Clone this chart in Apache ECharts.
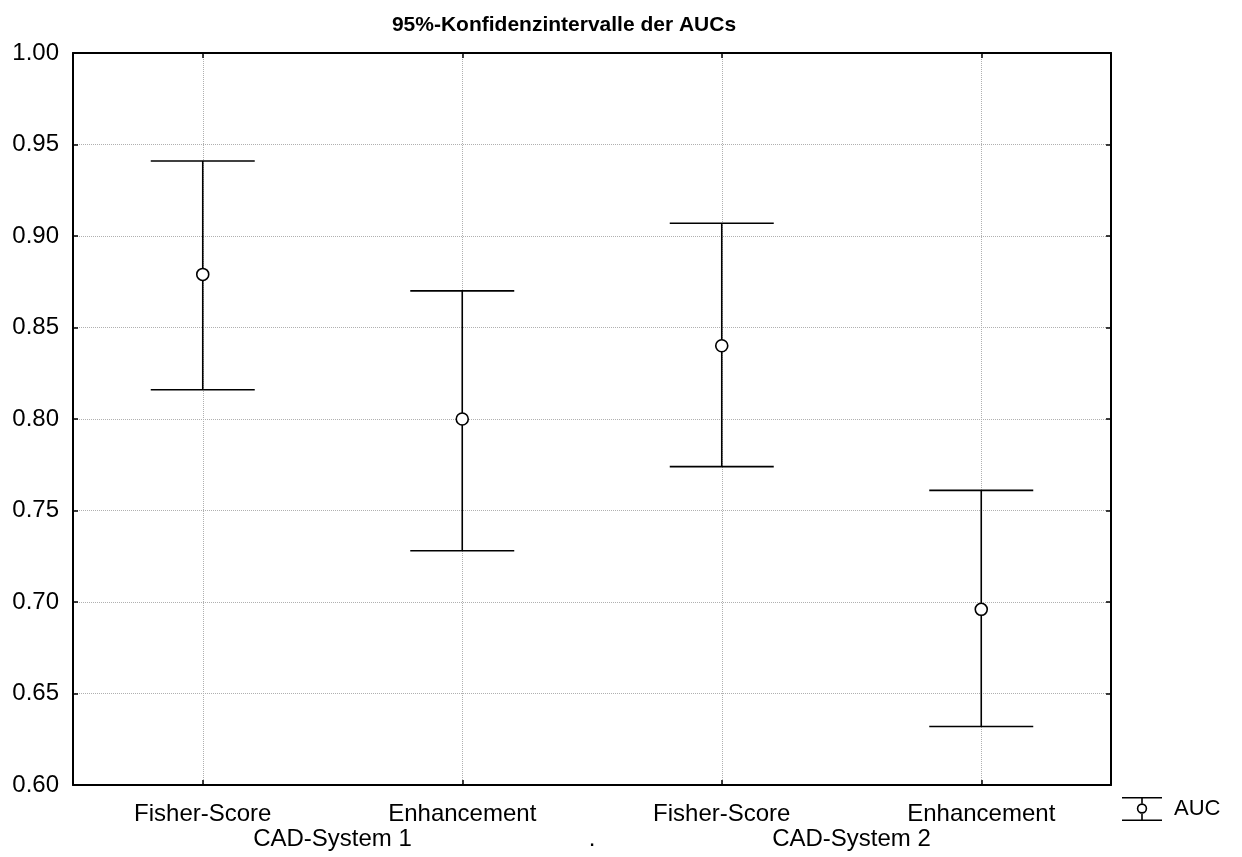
<!DOCTYPE html>
<html><head><meta charset="utf-8">
<script src="https://cdn.jsdelivr.net/npm/echarts@6/dist/echarts.min.js"></script>
<style>html,body{margin:0;padding:0;background:#fff}#c{width:1242px;height:857px}</style>
</head><body><div id="c"></div>
<script>
const categories = ['Fisher-Score', 'Enhancement', 'Fisher-Score', 'Enhancement'];
const groupLabels = ['', 'CAD-System 1', '.', 'CAD-System 2', ''];
const aucMean = [0.879, 0.800, 0.840, 0.696];
const ciLower = [0.816, 0.728, 0.774, 0.632];
const ciUpper = [0.941, 0.870, 0.907, 0.761];
const yTicks = [0.60, 0.65, 0.70, 0.75, 0.80, 0.85, 0.90, 0.95, 1.00];

const FONT = 'Liberation Sans, Arial, sans-serif';
const chart = echarts.init(document.getElementById('c'), null, {renderer: 'canvas'});

const errData = categories.map((c, i) => [i, ciLower[i], aucMean[i], ciUpper[i]]);
const meanData = categories.map((c, i) => [i, aucMean[i]]);

const legendIcon = 'path://M0,0 L40,0 L40,1.6 L0,1.6 Z M0,22.4 L40,22.4 L40,24 L0,24 Z ' +
  'M19.2,1.6 L20.8,1.6 L20.8,6.6 L19.2,6.6 Z M19.2,16.4 L20.8,16.4 L20.8,22.4 L19.2,22.4 Z ' +
  'M25.2,11.5 A5.2,5.2 0 1,0 14.8,11.5 A5.2,5.2 0 1,0 25.2,11.5 Z M23.6,11.5 A3.6,3.6 0 1,1 16.4,11.5 A3.6,3.6 0 1,1 23.6,11.5 Z';

chart.setOption({
  animation: false,
  backgroundColor: '#fff',
  title: {
    text: '95%-Konfidenzintervalle der AUCs',
    left: 559, top: 10, textAlign: 'center',
    textStyle: {fontFamily: FONT, fontSize: 21, fontWeight: 'bold', color: '#000'}
  },
  legend: {
    left: 1117, top: 792, itemWidth: 40, itemHeight: 24, itemGap: 10,
    textStyle: {fontFamily: FONT, fontSize: 22, color: '#000', padding: [0, 0, 0, 7]},
    data: [{name: 'AUC', icon: legendIcon, itemStyle: {color: '#000', borderWidth: 0}}]
  },
  grid: {left: 73, right: 131, top: 53, bottom: 72},
  xAxis: [
    {
      type: 'category', data: categories, position: 'bottom',
      axisLine: {show: true, lineStyle: {color: '#000', width: 2}},
      axisTick: {show: true, inside: true, length: 5, alignWithLabel: true, lineStyle: {color: '#000', width: 1.5}},
      axisLabel: {fontFamily: FONT, fontSize: 24, color: '#000', margin: 17, interval: 0},
      splitLine: {show: true, alignWithLabel: true, lineStyle: {color: '#b0b0b0', type: 'dotted', width: 1}}
    },
    {
      type: 'category', data: categories, position: 'top',
      axisLine: {show: true, lineStyle: {color: '#000', width: 2}},
      axisTick: {show: true, inside: true, length: 5, alignWithLabel: true, lineStyle: {color: '#000', width: 1.5}},
      axisLabel: {show: false}, splitLine: {show: false}
    },
    {
      type: 'value', min: 0, max: 4, interval: 1, position: 'bottom',
      axisLine: {show: false}, axisTick: {show: false}, splitLine: {show: false},
      axisLabel: {fontFamily: FONT, fontSize: 24, color: '#000', margin: 42,
        formatter: v => groupLabels[Math.round(v)] || ''}
    }
  ],
  yAxis: [
    {
      type: 'value', min: 0.60, max: 1.00, interval: 0.05, position: 'left',
      axisLine: {show: true, lineStyle: {color: '#000', width: 2}},
      axisTick: {show: true, inside: true, length: 5, lineStyle: {color: '#000', width: 1.5}},
      axisLabel: {fontFamily: FONT, fontSize: 24, color: '#000', margin: 14,
        formatter: v => { const t = yTicks.find(x => Math.abs(x - v) < 1e-6); return t !== undefined ? t.toFixed(2) : ''; }},
      splitLine: {show: true, lineStyle: {color: '#b0b0b0', type: 'dotted', width: 1}}
    },
    {
      type: 'value', min: 0.60, max: 1.00, interval: 0.05, position: 'right',
      axisLine: {show: true, lineStyle: {color: '#000', width: 2}},
      axisTick: {show: true, inside: true, length: 5, lineStyle: {color: '#000', width: 1.5}},
      axisLabel: {show: false}, splitLine: {show: false}
    }
  ],
  series: [
    {
      name: 'AUC', type: 'custom', xAxisIndex: 0, yAxisIndex: 0,
      itemStyle: {color: '#000'},
      encode: {x: 0, y: [1, 3]},
      data: errData,
      z: 2,
      renderItem: function (params, api) {
        const x = api.value(0);
        const lo = api.coord([x, api.value(1)]);
        const hi = api.coord([x, api.value(3)]);
        const half = 52;
        const st = {stroke: '#000', lineWidth: 1.6, fill: null};
        return {
          type: 'group',
          children: [
            {type: 'line', shape: {x1: lo[0], y1: lo[1], x2: hi[0], y2: hi[1]}, style: st},
            {type: 'line', shape: {x1: hi[0] - half, y1: hi[1], x2: hi[0] + half, y2: hi[1]}, style: st},
            {type: 'line', shape: {x1: lo[0] - half, y1: lo[1], x2: lo[0] + half, y2: lo[1]}, style: st}
          ]
        };
      }
    },
    {
      name: 'AUC', type: 'scatter', xAxisIndex: 0, yAxisIndex: 0,
      data: meanData, symbol: 'circle', symbolSize: 12, z: 5,
      itemStyle: {color: '#fff', borderColor: '#000', borderWidth: 1.6, opacity: 1},
      emphasis: {disabled: true}
    }
  ]
});
</script>
</body></html>
